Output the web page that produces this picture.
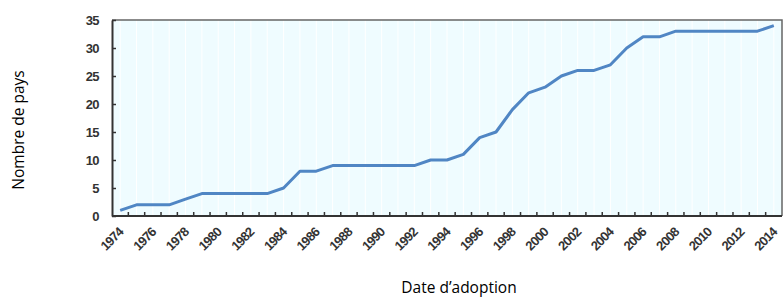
<!DOCTYPE html>
<html>
<head>
<meta charset="utf-8">
<script src="https://cdn.jsdelivr.net/npm/d3@7"></script>
<style>
  body { margin: 0; background: #fff; }
  svg { display: block; }
</style>
</head>
<body>
<div id="chart"></div>
<script>
// years and cumulative number of countries
const years = d3.range(1974, 2015)
const countries = [
  1, 2, 2, 2, 3, 4, 4, 4, 4, 4,
  5, 8, 8, 9, 9, 9, 9, 9, 9, 10,
  10, 11, 14, 15, 19, 22, 23, 25, 26, 26,
  27, 30, 32, 32, 33, 33, 33, 33, 33, 33,
  34
]
const yTicks = [0, 5, 10, 15, 20, 25, 30, 35]
const xLabelYears = years.filter(d => (d - 1974) % 2 === 0)

const width = 783
const height = 299
const plot = { left: 112, right: 782, top: 20, bottom: 216 }

const svg = d3
  .select('#chart')
  .append('svg')
  .attr('width', width)
  .attr('height', height)

const xPositionScale = d3
  .scaleBand()
  .domain(years)
  .range([plot.left, plot.right])
  .padding(0)

const yPositionScale = d3
  .scaleLinear()
  .domain([0, 35])
  .range([plot.bottom, plot.top])

const xMid = d => xPositionScale(d) + xPositionScale.bandwidth() / 2

// plot background
svg
  .append('rect')
  .attr('x', plot.left)
  .attr('y', plot.top)
  .attr('width', plot.right - plot.left)
  .attr('height', plot.bottom - plot.top)
  .attr('fill', '#effcff')

// faint vertical grid
svg
  .selectAll('.grid')
  .data(years)
  .enter()
  .append('line')
  .attr('class', 'grid')
  .attr('x1', d => xMid(d))
  .attr('x2', d => xMid(d))
  .attr('y1', plot.top)
  .attr('y2', plot.bottom)
  .attr('stroke', '#ffffff')
  .attr('stroke-width', 1)

// top and right frame
svg
  .append('path')
  .attr('d', `M${plot.left},${plot.top}H${plot.right}V${plot.bottom}`)
  .attr('fill', 'none')
  .attr('stroke', '#666')
  .attr('stroke-width', 1.5)

// the line
const line = d3
  .line()
  .x((d, i) => xMid(years[i]))
  .y(d => yPositionScale(d))

svg
  .append('path')
  .datum(countries)
  .attr('d', line)
  .attr('fill', 'none')
  .attr('stroke', '#5086c4')
  .attr('stroke-width', 3)
  .attr('stroke-linejoin', 'round')

// y axis, ticks pointing inward
const yAxis = d3
  .axisLeft(yPositionScale)
  .tickValues(yTicks)
  .tickSize(-4)
  .tickPadding(13)
  .tickSizeOuter(0)

const yAxisG = svg
  .append('g')
  .attr('class', 'axis y-axis')
  .attr('transform', 'translate(' + plot.left + ',0)')
  .call(yAxis)

yAxisG.select('.domain').attr('stroke', '#333').attr('stroke-width', 2)
yAxisG.selectAll('.tick line').attr('stroke', '#333').attr('stroke-width', 1.5)
yAxisG
  .selectAll('.tick text')
  .attr('fill', '#333')
  .style('font-family', 'Liberation Sans, Arial, sans-serif')
  .style('font-size', '13px')
  .style('font-weight', 'bold')
  .style('letter-spacing', '-0.6px')

// x axis line
svg
  .append('line')
  .attr('x1', plot.left)
  .attr('x2', plot.right)
  .attr('y1', plot.bottom)
  .attr('y2', plot.bottom)
  .attr('stroke', '#333')
  .attr('stroke-width', 2)

// x ticks at the band boundaries, pointing up
svg
  .selectAll('.xtick')
  .data(years.slice(1))
  .enter()
  .append('line')
  .attr('class', 'xtick')
  .attr('x1', d => xPositionScale(d))
  .attr('x2', d => xPositionScale(d))
  .attr('y1', plot.bottom)
  .attr('y2', plot.bottom - 4)
  .attr('stroke', '#333')
  .attr('stroke-width', 1.5)

// x labels, every other year, rotated
svg
  .selectAll('.xlabel')
  .data(xLabelYears)
  .enter()
  .append('text')
  .attr('class', 'xlabel')
  .attr('transform', d => 'translate(' + (xMid(d) + 4) + ',' + (plot.bottom + 17) + ') rotate(-45)')
  .attr('text-anchor', 'end')
  .attr('fill', '#333')
  .style('font-family', 'Liberation Sans, Arial, sans-serif')
  .style('font-size', '13px')
  .style('font-weight', 'bold')
  .style('letter-spacing', '-0.8px')
  .text(d => d)

// axis titles
svg
  .append('text')
  .text('Nombre de pays')
  .attr('transform', 'translate(24,130) rotate(-90)')
  .attr('text-anchor', 'middle')
  .attr('fill', '#000')
  .style('font-family', 'Open Sans, sans-serif')
  .style('font-size', '15.5px')

svg
  .append('text')
  .text('Date d’adoption')
  .attr('x', 459)
  .attr('y', 293)
  .attr('text-anchor', 'middle')
  .attr('fill', '#000')
  .style('font-family', 'Open Sans, sans-serif')
  .style('font-size', '15.5px')
</script>
</body>
</html>
